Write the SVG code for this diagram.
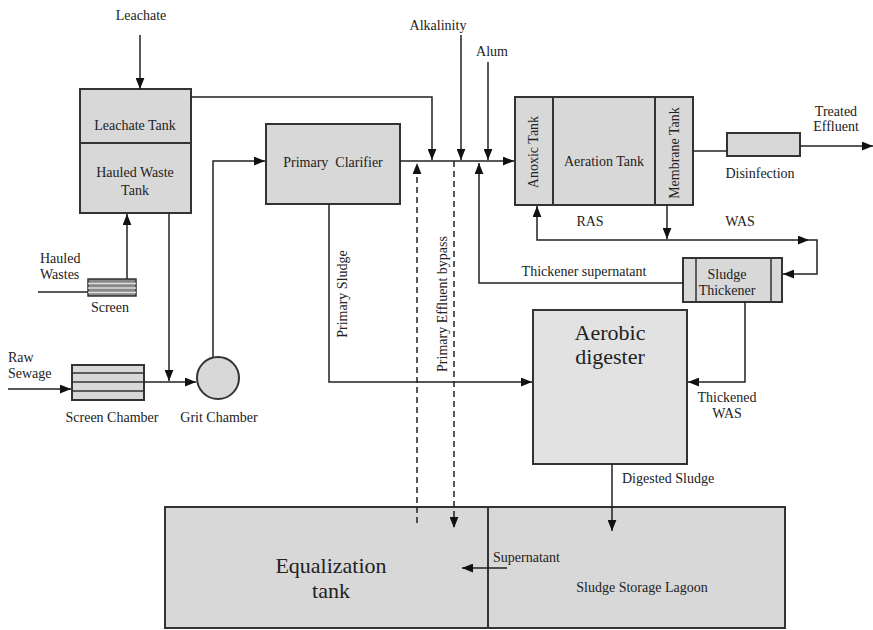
<svg xmlns="http://www.w3.org/2000/svg" width="873" height="630" viewBox="0 0 873 630">
<style>
.box{fill:#d8d8d8;stroke:#333;stroke-width:2}
.lt{fill:#e2e2e2;stroke:#333;stroke-width:2}
.ln{fill:none;stroke:#222;stroke-width:1.5}
.dl{fill:none;stroke:#222;stroke-width:1.5;stroke-dasharray:6,4}
.ar{marker-end:url(#ah)}
text{font-family:"Liberation Serif","Times New Roman",serif;font-size:14px;fill:#222}
.big{font-size:22px}
.m{text-anchor:middle}
</style>
<defs>
<marker id="ah" viewBox="0 0 10 8" refX="10" refY="4" markerWidth="11" markerHeight="9" markerUnits="userSpaceOnUse" orient="auto">
<path d="M0,0 L10,4 L0,8 z" fill="#111"/>
</marker>
</defs>
<rect width="873" height="630" fill="#fff"/>

<g id="leachate-label"><text class="m" x="141" y="20">Leachate</text></g>
<g id="alkalinity-label"><text class="m" x="438" y="30">Alkalinity</text></g>
<g id="alum-label"><text class="m" x="492" y="56">Alum</text></g>

<g id="leachate-tank">
<rect class="box" x="80" y="89" width="111" height="124"/>
<line x1="80" y1="143" x2="191" y2="143" stroke="#333" stroke-width="2"/>
<text class="m" x="135" y="130">Leachate Tank</text>
<text class="m" x="135" y="177">Hauled Waste</text>
<text class="m" x="135" y="195">Tank</text>
</g>

<g id="screen">
<rect x="88" y="279" width="48" height="17" fill="#888" stroke="#333" stroke-width="1.5"/>
<line x1="88" y1="283.5" x2="136" y2="283.5" stroke="#ddd" stroke-width="1.5"/>
<line x1="88" y1="288" x2="136" y2="288" stroke="#ddd" stroke-width="1.5"/>
<line x1="88" y1="292.5" x2="136" y2="292.5" stroke="#ddd" stroke-width="1.5"/>
<text class="m" x="110" y="312">Screen</text>
</g>
<g id="hauled-label"><text x="40" y="263">Hauled</text><text x="40" y="279">Wastes</text></g>
<g id="raw-label"><text x="8" y="362">Raw</text><text x="8" y="378">Sewage</text></g>

<g id="screen-chamber">
<rect class="box" x="72" y="365" width="72" height="35" stroke-width="1.5"/>
<line x1="72" y1="373" x2="144" y2="373" stroke="#333" stroke-width="1.5"/>
<line x1="72" y1="382" x2="144" y2="382" stroke="#333" stroke-width="1.5"/>
<line x1="72" y1="391" x2="144" y2="391" stroke="#333" stroke-width="1.5"/>
<text class="m" x="112" y="422">Screen Chamber</text>
</g>

<g id="grit-chamber">
<circle class="box" cx="218" cy="378" r="21"/>
<text class="m" x="219" y="422">Grit Chamber</text>
</g>

<g id="primary-clarifier">
<rect class="box" x="266" y="124" width="134" height="80"/>
<text class="m" x="333" y="167" xml:space="preserve">Primary  Clarifier</text>
</g>

<g id="bio-tanks">
<rect class="box" x="515" y="97" width="178" height="108"/>
<line x1="553" y1="97" x2="553" y2="205" stroke="#333" stroke-width="2"/>
<line x1="655" y1="97" x2="655" y2="205" stroke="#333" stroke-width="2"/>
<text class="m" transform="translate(538,152) rotate(-90)">Anoxic Tank</text>
<text class="m" x="604" y="166">Aeration Tank</text>
<text class="m" transform="translate(679,153) rotate(-90)">Membrane Tank</text>
</g>

<g id="disinfection">
<rect class="box" x="727" y="133" width="73" height="23" stroke-width="1.5"/>
<text class="m" x="760" y="178">Disinfection</text>
</g>
<g id="treated-label"><text class="m" x="836" y="116">Treated</text><text class="m" x="836" y="131">Effluent</text></g>

<g id="ras-was-labels"><text class="m" x="590" y="226">RAS</text><text class="m" x="740" y="226">WAS</text></g>

<g id="sludge-thickener">
<rect class="box" x="683" y="258" width="99" height="44" stroke-width="1.5"/>
<line x1="696" y1="258" x2="696" y2="302" stroke="#333" stroke-width="1.5"/>
<line x1="771" y1="258" x2="771" y2="302" stroke="#333" stroke-width="1.5"/>
<text class="m" x="727" y="279">Sludge</text>
<text class="m" x="727" y="295">Thickener</text>
</g>
<g id="thick-sup-label"><text class="m" x="584" y="276">Thickener supernatant</text></g>

<g id="primary-sludge-label"><text class="m" transform="translate(347,294) rotate(-90)">Primary Sludge</text></g>
<g id="bypass-label"><text class="m" transform="translate(447,304) rotate(-90)">Primary Effluent bypass</text></g>

<g id="aerobic-digester">
<rect class="lt" x="533" y="310" width="154" height="154"/>
<text class="m big" x="610" y="340">Aerobic</text>
<text class="m big" x="610" y="364">digester</text>
</g>
<g id="thickened-label"><text class="m" x="727" y="402">Thickened</text><text class="m" x="727" y="418">WAS</text></g>
<g id="digested-label"><text x="622" y="483">Digested Sludge</text></g>

<g id="equalization-tank">
<rect class="box" x="165" y="507" width="323" height="121"/>
<text class="m big" x="331" y="573">Equalization</text>
<text class="m big" x="331" y="598">tank</text>
</g>
<g id="sludge-lagoon">
<rect class="box" x="488" y="507" width="297" height="121"/>
<text class="m" x="642" y="592">Sludge Storage Lagoon</text>
</g>
<g id="supernatant-label"><text x="493" y="562">Supernatant</text></g>

<g id="connectors">
<path class="ln ar" d="M140,35 V89"/>
<path class="ln ar" d="M191,97 H432 V160"/>
<path class="ln ar" d="M461,35 V160"/>
<path class="ln ar" d="M488,62 V160"/>
<path class="ln ar" d="M400,161 H514"/>
<path class="ln ar" d="M213,357 V161 H265"/>
<path class="ln" d="M38,292 H88"/>
<path class="ln ar" d="M127,279 V214"/>
<path class="ln ar" d="M169,213 V381"/>
<path class="ln ar" d="M8,389 H71"/>
<path class="ln ar" d="M144,382 H196"/>
<path class="ln ar" d="M329,204 V382 H532"/>
<path class="dl ar" d="M417,523 V163"/>
<path class="dl ar" d="M454,161 V528"/>
<path class="ln ar" d="M683,283 H479 V163"/>
<path class="ln ar" d="M667,240 H537 V206"/>
<path class="ln ar" d="M667,205 V239"/>
<path class="ln ar" d="M667,240 H809"/>
<path class="ln ar" d="M809,240 H817 V274 H783"/>
<path class="ln ar" d="M745,302 V382 H688"/>
<path class="ln ar" d="M612,464 V531"/>
<path class="ln ar" d="M507,568 H462"/>
<path class="ln" d="M693,151 H727"/>
<path class="ln ar" d="M800,146 H873"/>
</g>
</svg>
